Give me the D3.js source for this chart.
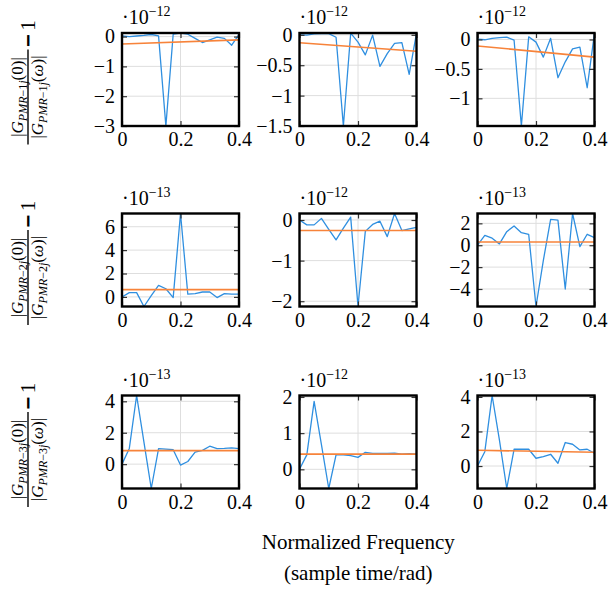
<!DOCTYPE html>
<html>
<head>
<meta charset="utf-8">
<script src="https://cdn.jsdelivr.net/npm/d3@7"></script>
<style>
body { margin: 0; background: #fff; }
svg text { font-family: "Liberation Serif", "Times New Roman", serif; fill: #000; }
.grid line { stroke: #dedede; stroke-width: 1; }
.tick line { stroke: #333; stroke-width: 1.2; }
</style>
</head>
<body>
<div id="chart"></div>
<script>
// normalized frequency grid shared by all panels
const freq = [0, 0.025, 0.05, 0.075, 0.1, 0.125, 0.15, 0.175, 0.2, 0.225, 0.25, 0.275, 0.3, 0.325, 0.35, 0.375, 0.4];
const xTicks = [0, 0.2, 0.4];

// row 1 : PMR-1j
const pmr1A = [0.02, 0, 0.02, 0.04, 0.07, 0.02, -3, 0.08, 0.12, 0.08, -0.06, -0.2, -0.11, -0.02, -0.06, -0.29, 0.07];
const pmr1B = [0, -0.005, 0.015, 0.02, 0.02, -0.04, -1.5, 0.027, -0.12, -0.33, -0.005, -0.52, -0.31, -0.14, -0.13, -0.65, 0.03];
const pmr1C = [0.005, -0.005, 0.02, 0.03, 0.04, -0.01, -1.47, 0.045, -0.045, -0.3, 0.02, -0.65, -0.38, -0.16, -0.13, -0.82, 0.11];
// row 2 : PMR-2j
const pmr2A = [0, 0.37, 0.37, -0.82, 0.1, 0.99, 0.7, -0.06, 7.13, 0.23, 0.28, 0.42, 0.42, -0.06, 0.28, 0.23, 0.23];
const pmr2B = [0, -0.12, -0.12, 0.04, -0.23, -0.49, -0.2, 0.07, -2.13, -0.28, -0.11, -0.03, -0.41, 0.16, -0.26, -0.22, -0.18];
const pmr2C = [0, 0.9, 0.64, 0.12, 1.24, 1.76, 1.15, 1.0, -5.6, -1.4, 2.36, 2.3, -4.0, 2.9, -0.12, 1.0, 0.7];
// row 3 : PMR-3j
const pmr3A = [0, 1.0, 4.37, 1.4, -1.55, 0.99, 0.95, 0.92, -0.06, 0.17, 0.77, 0.88, 1.14, 0.99, 1.0, 1.03, 0.99];
const pmr3B = [0, 0.4, 1.88, 0.68, -0.53, 0.4, 0.4, 0.38, 0.33, 0.47, 0.44, 0.44, 0.44, 0.45, 0.42, 0.43, 0.42];
const pmr3C = [0, 0.83, 4.08, 1.5, -1.3, 0.97, 0.97, 0.97, 0.45, 0.54, 0.68, 0.16, 1.36, 1.26, 0.93, 0.97, 0.74];

// linear fit (value at 0 and at 0.4)
const fits = [[-0.25, -0.11], [-0.13, -0.27], [-0.11, -0.3],
              [0.62, 0.62], [-0.26, -0.26], [0.3, 0.3],
              [0.86, 0.86], [0.42, 0.42], [0.91, 0.8]];
const yDomains = [[-3, 0.12], [-1.5, 0.03], [-1.47, 0.11],
                  [-0.82, 7.13], [-2.13, 0.16], [-5.6, 2.9],
                  [-1.55, 4.37], [-0.53, 2.04], [-1.3, 4.08]];
const yTicks = [[-3, -2, -1, 0], [-1.5, -1, -0.5, 0], [-1, -0.5, 0],
                [0, 2, 4, 6], [-2, -1, 0], [-4, -2, 0, 2],
                [0, 2, 4], [0, 1, 2], [0, 2, 4]];
const exponents = ["−12", "−12", "−12", "−13", "−12", "−13", "−13", "−12", "−13"];
const rowNames = ["1", "2", "3"];
const series = [pmr1A, pmr1B, pmr1C, pmr2A, pmr2B, pmr2C, pmr3A, pmr3B, pmr3C];

const width = 609, height = 596;
const colLeft = [122, 299.5, 477.5],
    rowTop = [33, 213.5, 395.5],
    plotW = 117,
    plotH = 93;
const blue = "#2f8fe0", orange = "#f7833a";
const serif = "'Liberation Serif', 'Times New Roman', serif";
const fmt = d3.format("");

const svg = d3.select("#chart").append("svg")
    .attr("width", width)
    .attr("height", height);

const x = d3.scaleLinear().domain([0, 0.4]).range([0, plotW]);

series.forEach(function (values, i) {
    const r = Math.floor(i / 3), c = i % 3;
    const g = svg.append("g").attr("transform", "translate(" + colLeft[c] + "," + rowTop[r] + ")");
    const y = d3.scaleLinear().domain(yDomains[i]).range([plotH, 0]);

    g.append("clipPath").attr("id", "clip" + i)
        .append("rect").attr("width", plotW).attr("height", plotH);

    // grid
    const grid = g.append("g").attr("class", "grid");
    grid.selectAll(".gy").data(yTicks[i]).join("line")
        .attr("x1", 0).attr("x2", plotW)
        .attr("y1", d => y(d)).attr("y2", d => y(d));
    grid.selectAll(".gx").data(xTicks).join("line")
        .attr("y1", 0).attr("y2", plotH)
        .attr("x1", d => x(d)).attr("x2", d => x(d));

    // data
    const line = d3.line().x((d, k) => x(freq[k])).y(d => y(d));
    g.append("path").datum(values)
        .attr("clip-path", "url(#clip" + i + ")")
        .attr("d", line)
        .attr("fill", "none").attr("stroke", blue).attr("stroke-width", 1.3)
        .attr("stroke-linejoin", "round");
    g.append("path").datum(fits[i])
        .attr("clip-path", "url(#clip" + i + ")")
        .attr("d", d3.line().x((d, k) => x(xTicks[k * 2])).y(d => y(d)))
        .attr("fill", "none").attr("stroke", orange).attr("stroke-width", 1.6);

    // axes, ticks pointing inward
    g.append("g").attr("transform", "translate(0," + plotH + ")")
        .call(d3.axisBottom(x).tickValues(xTicks).tickSize(-5).tickPadding(6).tickFormat(fmt));
    g.append("g")
        .call(d3.axisLeft(y).tickValues(yTicks[i]).tickSize(-5).tickPadding(7).tickFormat(fmt));
    g.append("g").call(d3.axisTop(x).tickValues(xTicks).tickSize(-5).tickFormat(""));
    g.append("g").attr("transform", "translate(" + plotW + ",0)")
        .call(d3.axisRight(y).tickValues(yTicks[i]).tickSize(-5).tickFormat(""));
    g.selectAll(".domain").remove();
    g.selectAll("g").attr("font-family", serif);
    g.selectAll(".tick text").attr("font-family", serif).attr("font-size", 20).attr("fill", "#000");

    // border
    g.append("rect").attr("width", plotW).attr("height", plotH)
        .attr("fill", "none").attr("stroke", "#000").attr("stroke-width", 2.4);

    // scale label
    const sc = g.append("text").attr("x", 0).attr("y", -9).attr("font-size", 20);
    sc.append("tspan").text("·10");
    sc.append("tspan").attr("dy", -8).attr("font-size", 14).text(exponents[i]);
});

// y labels, one per row
rowNames.forEach(function (n, r) {
    const lg = svg.append("g")
        .attr("transform", "translate(28," + (rowTop[r] + plotH / 2 + 2) + ") rotate(-90)");
    lg.append("line").attr("x1", -63).attr("x2", 32).attr("y1", 0).attr("y2", 0)
        .attr("stroke", "#000").attr("stroke-width", 1.4);
    [["(0)|", -5], ["(ω)|", 15]].forEach(function (part) {
        const t = lg.append("text").attr("x", -15.5).attr("y", part[1])
            .attr("text-anchor", "middle").attr("font-size", 17);
        t.append("tspan").text("|");
        t.append("tspan").attr("font-style", "italic").text("G");
        t.append("tspan").attr("font-size", 12).attr("dy", 4).attr("font-style", "italic").text("PMR");
        t.append("tspan").attr("font-size", 12).text("−" + n);
        t.append("tspan").attr("font-size", 12).attr("font-style", "italic").text("j");
        t.append("tspan").attr("dy", -4).text(part[0].slice(0, 1));
        t.append("tspan").attr("font-style", part[0][1] === "ω" ? "italic" : null).text(part[0][1]);
        t.append("tspan").text(part[0].slice(2));
    });
    const m = lg.append("text").attr("x", 35).attr("y", 7).attr("font-size", 21);
    m.append("tspan").attr("stroke", "#000").attr("stroke-width", 1.2).text("−");
    m.append("tspan").attr("dx", 4).text("1");
});

// shared x label
const midX = (colLeft[0] + colLeft[2] + plotW) / 2;
svg.append("text").attr("x", midX).attr("y", 549).attr("text-anchor", "middle")
    .attr("font-size", 21).text("Normalized Frequency");
svg.append("text").attr("x", midX).attr("y", 580).attr("text-anchor", "middle")
    .attr("font-size", 21).text("(sample time/rad)");
</script>
</body>
</html>
